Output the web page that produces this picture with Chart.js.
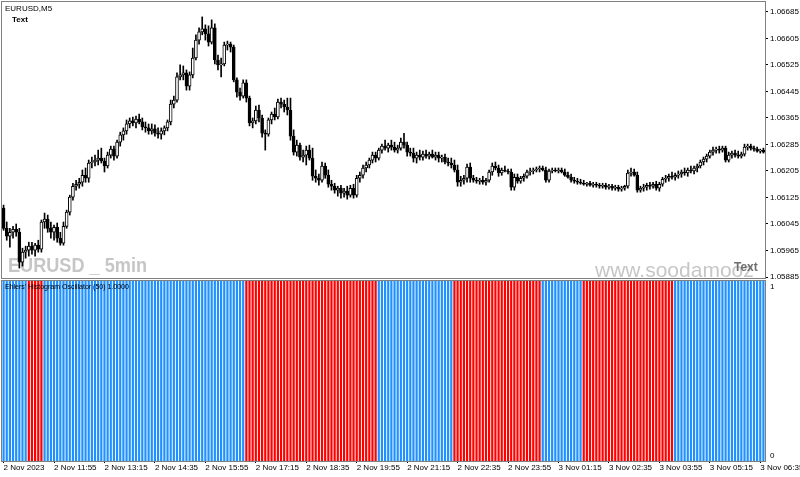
<!DOCTYPE html>
<html>
<head>
<meta charset="utf-8">
<script src="https://cdn.jsdelivr.net/npm/chart.js@4.4.0/dist/chart.umd.min.js"></script>
<style>
  body { margin: 0; background: #fff; }
  #wrap { position: relative; width: 800px; height: 477px; overflow: hidden; }
  #priceBox { position: absolute; left: 0; top: 0; width: 800px; height: 280px; }
  #oscBox { position: absolute; left: 0; top: 280px; width: 800px; height: 197px; }
</style>
</head>
<body>
<div id="wrap">
  <div id="priceBox"><canvas id="price" width="800" height="280"></canvas></div>
  <div id="oscBox"><canvas id="osc" width="800" height="197"></canvas></div>
</div>
<script>
// EURUSD M5, 2 Nov 2023 10:35 -> 3 Nov 06:40 (242 bars)
const barOpen = [
  1.06093,1.06032,1.06008,1.06020,1.06029,1.06020,1.05930,1.05960,1.05966,1.05978,
  1.05966,1.05981,1.05969,1.06051,1.06060,1.06032,1.06020,1.06035,1.06002,1.05987,
  1.06038,1.06081,1.06126,1.06159,1.06165,1.06171,1.06192,1.06183,1.06229,1.06232,
  1.06238,1.06244,1.06235,1.06220,1.06253,1.06271,1.06250,1.06292,1.06314,1.06326,
  1.06347,1.06356,1.06350,1.06362,1.06353,1.06338,1.06335,1.06326,1.06332,1.06319,
  1.06316,1.06326,1.06335,1.06353,1.06407,1.06419,1.06489,1.06495,1.06501,1.06461,
  1.06495,1.06546,1.06600,1.06625,1.06634,1.06619,1.06594,1.06637,1.06540,1.06525,
  1.06528,1.06585,1.06588,1.06579,1.06480,1.06443,1.06431,1.06471,1.06425,1.06350,
  1.06356,1.06389,1.06365,1.06319,1.06316,1.06359,1.06377,1.06368,1.06413,1.06407,
  1.06398,1.06389,1.06310,1.06262,1.06283,1.06247,1.06253,1.06268,1.06244,1.06189,
  1.06183,1.06177,1.06220,1.06192,1.06165,1.06159,1.06147,1.06153,1.06138,1.06144,
  1.06132,1.06153,1.06132,1.06183,1.06192,1.06214,1.06223,1.06238,1.06253,1.06244,
  1.06268,1.06280,1.06274,1.06283,1.06277,1.06268,1.06274,1.06292,1.06283,1.06262,
  1.06259,1.06244,1.06253,1.06247,1.06256,1.06250,1.06256,1.06247,1.06253,1.06244,
  1.06247,1.06232,1.06229,1.06223,1.06208,1.06171,1.06177,1.06183,1.06217,1.06183,
  1.06177,1.06174,1.06177,1.06171,1.06177,1.06202,1.06220,1.06214,1.06199,1.06208,
  1.06205,1.06202,1.06156,1.06186,1.06174,1.06183,1.06189,1.06202,1.06205,1.06208,
  1.06211,1.06214,1.06208,1.06177,1.06205,1.06208,1.06205,1.06208,1.06202,1.06192,
  1.06186,1.06177,1.06174,1.06171,1.06168,1.06165,1.06168,1.06162,1.06165,1.06162,
  1.06159,1.06162,1.06156,1.06159,1.06153,1.06156,1.06150,1.06153,1.06159,1.06199,
  1.06202,1.06192,1.06147,1.06153,1.06156,1.06162,1.06159,1.06165,1.06153,1.06165,
  1.06180,1.06183,1.06189,1.06186,1.06192,1.06196,1.06202,1.06199,1.06208,1.06205,
  1.06214,1.06220,1.06232,1.06241,1.06250,1.06262,1.06268,1.06271,1.06268,1.06274,
  1.06238,1.06253,1.06259,1.06253,1.06250,1.06256,1.06277,1.06280,1.06274,1.06271,
  1.06265,1.06268
];
const barHigh = [
  1.06102,1.06051,1.06032,1.06038,1.06045,1.06032,1.05972,1.05978,1.05990,1.05990,
  1.05987,1.05996,1.06057,1.06078,1.06072,1.06051,1.06042,1.06048,1.06020,1.06051,
  1.06087,1.06132,1.06168,1.06177,1.06183,1.06208,1.06214,1.06238,1.06247,1.06253,
  1.06268,1.06274,1.06244,1.06262,1.06280,1.06280,1.06298,1.06322,1.06335,1.06359,
  1.06365,1.06368,1.06371,1.06377,1.06365,1.06353,1.06347,1.06347,1.06344,1.06335,
  1.06335,1.06341,1.06359,1.06419,1.06431,1.06501,1.06525,1.06522,1.06510,1.06504,
  1.06576,1.06616,1.06637,1.06670,1.06646,1.06643,1.06661,1.06649,1.06555,1.06546,
  1.06594,1.06597,1.06594,1.06585,1.06486,1.06455,1.06480,1.06480,1.06431,1.06365,
  1.06401,1.06404,1.06374,1.06329,1.06365,1.06383,1.06395,1.06422,1.06425,1.06419,
  1.06425,1.06425,1.06329,1.06298,1.06289,1.06268,1.06280,1.06283,1.06274,1.06208,
  1.06196,1.06232,1.06229,1.06208,1.06177,1.06168,1.06159,1.06162,1.06153,1.06159,
  1.06162,1.06165,1.06192,1.06202,1.06223,1.06232,1.06244,1.06262,1.06262,1.06274,
  1.06286,1.06298,1.06289,1.06298,1.06292,1.06283,1.06304,1.06319,1.06292,1.06274,
  1.06274,1.06262,1.06268,1.06265,1.06268,1.06262,1.06268,1.06262,1.06262,1.06253,
  1.06256,1.06244,1.06244,1.06238,1.06223,1.06189,1.06192,1.06226,1.06229,1.06192,
  1.06186,1.06183,1.06189,1.06183,1.06208,1.06229,1.06232,1.06223,1.06214,1.06220,
  1.06211,1.06211,1.06196,1.06196,1.06189,1.06196,1.06208,1.06214,1.06214,1.06217,
  1.06220,1.06220,1.06217,1.06211,1.06214,1.06214,1.06214,1.06214,1.06211,1.06202,
  1.06196,1.06186,1.06183,1.06180,1.06177,1.06171,1.06174,1.06171,1.06171,1.06168,
  1.06168,1.06168,1.06165,1.06165,1.06162,1.06162,1.06159,1.06162,1.06208,1.06214,
  1.06211,1.06202,1.06159,1.06165,1.06168,1.06171,1.06171,1.06174,1.06171,1.06186,
  1.06192,1.06196,1.06202,1.06199,1.06205,1.06208,1.06214,1.06214,1.06220,1.06220,
  1.06226,1.06238,1.06247,1.06256,1.06268,1.06277,1.06277,1.06280,1.06280,1.06280,
  1.06262,1.06265,1.06268,1.06265,1.06262,1.06286,1.06286,1.06286,1.06280,1.06277,
  1.06271,1.06274
];
const barLow = [
  1.06026,1.05996,1.05975,1.06002,1.06008,1.05912,1.05918,1.05942,1.05948,1.05954,
  1.05948,1.05960,1.05960,1.06032,1.06020,1.06002,1.05996,1.05990,1.05981,1.05981,
  1.06032,1.06072,1.06117,1.06147,1.06153,1.06159,1.06171,1.06171,1.06214,1.06220,
  1.06223,1.06229,1.06202,1.06214,1.06244,1.06238,1.06244,1.06280,1.06298,1.06316,
  1.06335,1.06341,1.06335,1.06347,1.06329,1.06322,1.06316,1.06316,1.06310,1.06304,
  1.06301,1.06314,1.06326,1.06344,1.06395,1.06413,1.06480,1.06480,1.06449,1.06449,
  1.06486,1.06540,1.06588,1.06616,1.06600,1.06582,1.06588,1.06528,1.06510,1.06489,
  1.06522,1.06570,1.06564,1.06474,1.06428,1.06419,1.06425,1.06413,1.06341,1.06335,
  1.06347,1.06353,1.06307,1.06268,1.06310,1.06347,1.06359,1.06362,1.06395,1.06383,
  1.06374,1.06298,1.06253,1.06250,1.06238,1.06232,1.06223,1.06238,1.06177,1.06171,
  1.06162,1.06171,1.06183,1.06156,1.06147,1.06138,1.06129,1.06123,1.06126,1.06120,
  1.06126,1.06123,1.06126,1.06171,1.06183,1.06202,1.06214,1.06229,1.06232,1.06238,
  1.06259,1.06268,1.06262,1.06268,1.06262,1.06259,1.06268,1.06274,1.06250,1.06250,
  1.06232,1.06229,1.06238,1.06238,1.06244,1.06241,1.06244,1.06238,1.06232,1.06232,
  1.06226,1.06220,1.06214,1.06202,1.06159,1.06159,1.06165,1.06171,1.06171,1.06171,
  1.06168,1.06165,1.06165,1.06162,1.06171,1.06192,1.06208,1.06189,1.06192,1.06202,
  1.06196,1.06147,1.06147,1.06168,1.06168,1.06174,1.06183,1.06192,1.06196,1.06202,
  1.06202,1.06205,1.06171,1.06171,1.06199,1.06202,1.06199,1.06199,1.06189,1.06183,
  1.06171,1.06168,1.06165,1.06165,1.06162,1.06159,1.06159,1.06156,1.06156,1.06153,
  1.06153,1.06150,1.06150,1.06147,1.06147,1.06144,1.06144,1.06147,1.06153,1.06189,
  1.06189,1.06141,1.06141,1.06144,1.06147,1.06150,1.06153,1.06147,1.06144,1.06159,
  1.06171,1.06174,1.06180,1.06177,1.06183,1.06186,1.06192,1.06189,1.06199,1.06196,
  1.06202,1.06214,1.06223,1.06232,1.06244,1.06253,1.06259,1.06259,1.06262,1.06232,
  1.06232,1.06244,1.06247,1.06244,1.06244,1.06250,1.06268,1.06268,1.06265,1.06262,
  1.06259,1.06259
];
const barClose = [
  1.06032,1.06008,1.06020,1.06029,1.06020,1.05930,1.05960,1.05966,1.05978,1.05966,
  1.05981,1.05969,1.06051,1.06060,1.06032,1.06020,1.06035,1.06002,1.05987,1.06038,
  1.06081,1.06126,1.06159,1.06165,1.06171,1.06192,1.06183,1.06229,1.06232,1.06238,
  1.06244,1.06235,1.06220,1.06253,1.06271,1.06250,1.06292,1.06314,1.06326,1.06347,
  1.06356,1.06350,1.06362,1.06353,1.06338,1.06335,1.06326,1.06332,1.06319,1.06316,
  1.06326,1.06335,1.06353,1.06407,1.06419,1.06489,1.06495,1.06501,1.06461,1.06495,
  1.06546,1.06600,1.06625,1.06634,1.06619,1.06594,1.06637,1.06540,1.06525,1.06528,
  1.06585,1.06588,1.06579,1.06480,1.06443,1.06431,1.06471,1.06425,1.06350,1.06356,
  1.06389,1.06365,1.06319,1.06316,1.06359,1.06377,1.06368,1.06413,1.06407,1.06398,
  1.06389,1.06310,1.06262,1.06283,1.06247,1.06253,1.06268,1.06244,1.06189,1.06183,
  1.06177,1.06220,1.06192,1.06165,1.06159,1.06147,1.06153,1.06138,1.06144,1.06132,
  1.06153,1.06132,1.06183,1.06192,1.06214,1.06223,1.06238,1.06253,1.06244,1.06268,
  1.06280,1.06274,1.06283,1.06277,1.06268,1.06274,1.06292,1.06283,1.06262,1.06259,
  1.06244,1.06253,1.06247,1.06256,1.06250,1.06256,1.06247,1.06253,1.06244,1.06247,
  1.06232,1.06229,1.06223,1.06208,1.06171,1.06177,1.06183,1.06217,1.06183,1.06177,
  1.06174,1.06177,1.06171,1.06177,1.06202,1.06220,1.06214,1.06199,1.06208,1.06205,
  1.06202,1.06156,1.06186,1.06174,1.06183,1.06189,1.06202,1.06205,1.06208,1.06211,
  1.06214,1.06208,1.06177,1.06205,1.06208,1.06205,1.06208,1.06202,1.06192,1.06186,
  1.06177,1.06174,1.06171,1.06168,1.06165,1.06168,1.06162,1.06165,1.06162,1.06159,
  1.06162,1.06156,1.06159,1.06153,1.06156,1.06150,1.06153,1.06159,1.06199,1.06202,
  1.06192,1.06147,1.06153,1.06156,1.06162,1.06159,1.06165,1.06153,1.06165,1.06180,
  1.06183,1.06189,1.06186,1.06192,1.06196,1.06202,1.06199,1.06208,1.06205,1.06214,
  1.06220,1.06232,1.06241,1.06250,1.06262,1.06268,1.06271,1.06268,1.06274,1.06238,
  1.06253,1.06259,1.06253,1.06250,1.06256,1.06277,1.06280,1.06274,1.06271,1.06265,
  1.06268,1.06262
];

// Ehlers' Histogram Oscillator (50): value and direction (1 = up/blue, -1 = down/red)
const histValue = [
  1,1,1,1,1,1,1,1,1,1,1,1,1,1,1,1, 1,1,1,1,1,1,1,1,1,1,1,1,1,1,1,1,
  1,1,1,1,1,1,1,1,1,1,1,1,1,1,1,1, 1,1,1,1,1,1,1,1,1,1,1,1,1,1,1,1,
  1,1,1,1,1,1,1,1,1,1,1,1,1,1,1,1, 1,1,1,1,1,1,1,1,1,1,1,1,1,1,1,1,
  1,1,1,1,1,1,1,1,1,1,1,1,1,1,1,1, 1,1,1,1,1,1,1,1,1,1,1,1,1,1,1,1,
  1,1,1,1,1,1,1,1,1,1,1,1,1,1,1,1, 1,1,1,1,1,1,1,1,1,1,1,1,1,1,1,1,
  1,1,1,1,1,1,1,1,1,1,1,1,1,1,1,1, 1,1,1,1,1,1,1,1,1,1,1,1,1,1,1,1,
  1,1,1,1,1,1,1,1,1,1,1,1,1,1,1,1, 1,1,1,1,1,1,1,1,1,1,1,1,1,1,1,1,
  1,1,1,1,1,1,1,1,1,1,1,1,1,1,1,1, 1,1
];
const histDir = [
  1,1,1,1,1,1,1,1,-1,-1,-1,-1,-1,1,1,1,
  1,1,1,1,1,1,1,1,1,1,1,1,1,1,1,1,
  1,1,1,1,1,1,1,1,1,1,1,1,1,1,1,1,
  1,1,1,1,1,1,1,1,1,1,1,1,1,1,1,1,
  1,1,1,1,1,1,1,1,1,1,1,1,1,-1,-1,-1,
  -1,-1,-1,-1,-1,-1,-1,-1,-1,-1,-1,-1,-1,-1,-1,-1,
  -1,-1,-1,-1,-1,-1,-1,-1,-1,-1,-1,-1,-1,-1,-1,-1,
  -1,-1,-1,-1,-1,-1,-1,1,1,1,1,1,1,1,1,1,
  1,1,1,1,1,1,1,1,1,1,1,1,1,1,1,-1,
  -1,-1,-1,-1,-1,-1,-1,-1,-1,-1,-1,-1,-1,-1,-1,-1,
  -1,-1,-1,-1,-1,-1,-1,-1,-1,-1,-1,1,1,1,1,1,
  1,1,1,1,1,1,1,1,-1,-1,-1,-1,-1,-1,-1,-1,
  -1,-1,-1,-1,-1,-1,-1,-1,-1,-1,-1,-1,-1,-1,-1,-1,
  -1,-1,-1,-1,-1,1,1,1,1,1,1,1,1,1,1,1,
  1,1,1,1,1,1,1,1,1,1,1,1,1,1,1,1,
  1,1
];

const priceTicks = [1.05885, 1.05965, 1.06045, 1.06125, 1.06205, 1.06285, 1.06365, 1.06445, 1.06525, 1.06605, 1.06685];
const timeTickLabels = ['2 Nov 2023', '2 Nov 11:55', '2 Nov 13:15', '2 Nov 14:35', '2 Nov 15:55', '2 Nov 17:15',
  '2 Nov 18:35', '2 Nov 19:55', '2 Nov 21:15', '2 Nov 22:35', '2 Nov 23:55', '3 Nov 01:15', '3 Nov 02:35',
  '3 Nov 03:55', '3 Nov 05:15', '3 Nov 06:35'];
const tickEvery = 16;

const pad = n => String(n).padStart(2, '0');
const t0 = Date.UTC(2023, 10, 2, 10, 35);
const barTimes = barClose.map((_, i) => {
  const d = new Date(t0 + i * 5 * 60000);
  return d.getUTCDate() + ' Nov ' + pad(d.getUTCHours()) + ':' + pad(d.getUTCMinutes());
});

const axisFont = { family: "'Liberation Sans', Arial, sans-serif", size: 8 };
const frameColor = '#808080';

function drawFrame(chart) {
  const { ctx, chartArea: a } = chart;
  ctx.save();
  ctx.strokeStyle = frameColor;
  ctx.lineWidth = 1;
  ctx.strokeRect(a.left - 0.5, a.top - 0.5, a.right - a.left + 1, a.bottom - a.top + 1);
  ctx.restore();
}

// y axes: fixed width, no extra vertical padding for the end labels
function fixY(s) {
  s.width = 35;
  s.paddingTop = 0;
  s.paddingBottom = 0;
}

const priceDecor = {
  id: 'priceDecor',
  beforeDatasetsDraw(chart) {
    const ctx = chart.ctx;
    ctx.save();
    ctx.fillStyle = '#c6c6c6';
    ctx.textBaseline = 'alphabetic';
    ctx.font = "bold 21px 'Liberation Sans', Arial";
    const wm = 'EURUSD _ 5min';
    const sx = 139 / ctx.measureText(wm).width;
    ctx.translate(8, 272);
    ctx.scale(sx, 1);
    ctx.fillText(wm, 0, 0);
    ctx.setTransform(1, 0, 0, 1, 0, 0);
    ctx.font = "21px 'Liberation Sans', Arial";
    ctx.fillText('www.soodamooz', 595, 277);
    ctx.restore();
  },
  afterDraw(chart) {
    const ctx = chart.ctx;
    drawFrame(chart);
    ctx.save();
    ctx.textBaseline = 'middle';
    ctx.fillStyle = '#000';
    ctx.font = "8px 'Liberation Sans', Arial";
    ctx.fillText('EURUSD,M5', 5, 9);
    ctx.font = "bold 8px 'Liberation Sans', Arial";
    ctx.fillText('Text', 12, 20);
    ctx.fillStyle = '#6e6e6e';
    ctx.font = "bold 12px 'Liberation Sans', Arial";
    ctx.fillText('Text', 734, 268);
    ctx.restore();
  }
};

const oscDecor = {
  id: 'oscDecor',
  afterDraw(chart) {
    const ctx = chart.ctx;
    drawFrame(chart);
    ctx.save();
    ctx.textBaseline = 'middle';
    ctx.fillStyle = '#000';
    ctx.font = "7px 'Liberation Sans', Arial";
    ctx.fillText("Ehlers' Histogram Oscillator (50) 1.0000", 5, 7);
    ctx.restore();
  }
};

new Chart(document.getElementById('price'), {
  type: 'bar',
  data: {
    labels: barTimes,
    datasets: [
      {
        label: 'body',
        data: barOpen.map((o, i) => [o, barClose[i]]),
        backgroundColor: barOpen.map((o, i) => barClose[i] >= o ? '#ffffff' : '#000000'),
        borderColor: '#000000',
        borderWidth: 1,
        borderSkipped: false,
        barThickness: 3,
        minBarLength: 1,
        grouped: false,
        order: 0
      },
      {
        label: 'wick',
        data: barLow.map((l, i) => [l, barHigh[i]]),
        backgroundColor: '#000000',
        borderWidth: 0,
        barThickness: 1,
        grouped: false,
        order: 1
      }
    ]
  },
  options: {
    responsive: false,
    animation: false,
    devicePixelRatio: 1,
    layout: { padding: { left: 2, top: 2, bottom: 2, right: 0 } },
    plugins: { legend: { display: false }, tooltip: { enabled: false } },
    scales: {
      x: { type: 'category', display: false, offset: true },
      y: {
        position: 'right',
        min: 1.05882,
        max: 1.06715,
        afterBuildTicks: s => { s.ticks = priceTicks.map(v => ({ value: v })); },
        afterFit: fixY,
        ticks: { callback: v => Number(v).toFixed(5), font: axisFont, color: '#000', padding: 2 },
        grid: { drawOnChartArea: false, drawTicks: true, tickLength: 3, color: '#000' },
        border: { display: false }
      }
    }
  },
  plugins: [priceDecor]
});

new Chart(document.getElementById('osc'), {
  type: 'bar',
  data: {
    labels: barTimes,
    datasets: [{
      label: 'EHO',
      data: histValue,
      backgroundColor: histDir.map(d => d > 0 ? '#1e90ff' : '#ff0000'),
      borderWidth: 0,
      barPercentage: 0.7,
      categoryPercentage: 1.0
    }]
  },
  options: {
    responsive: false,
    animation: false,
    devicePixelRatio: 1,
    layout: { padding: { left: 2, top: 1, bottom: 0, right: 0 } },
    plugins: { legend: { display: false }, tooltip: { enabled: false } },
    scales: {
      x: {
        type: 'category',
        offset: true,
        afterBuildTicks: s => { s.ticks = s.ticks.filter(t => t.value % tickEvery === 0); },
        afterFit: s => { s.height = 16; s.paddingLeft = 0; s.paddingRight = 0; },
        ticks: {
          autoSkip: false, maxRotation: 0, minRotation: 0, align: 'start', padding: 0,
          font: axisFont, color: '#000',
          callback: v => timeTickLabels[v / tickEvery]
        },
        grid: { drawOnChartArea: false, offset: false, tickLength: 2, color: '#000' },
        border: { display: false }
      },
      y: {
        position: 'right',
        min: 0,
        max: 1,
        afterBuildTicks: s => { s.ticks = [{ value: 0.03 }, { value: 0.97 }]; },
        afterFit: fixY,
        ticks: { callback: v => (v < 0.5 ? '0' : '1'), font: axisFont, color: '#000', padding: 2 },
        grid: { drawOnChartArea: false, tickLength: 3, color: 'rgba(0,0,0,0)' },
        border: { display: false }
      }
    }
  },
  plugins: [oscDecor]
});
</script>
</body>
</html>
